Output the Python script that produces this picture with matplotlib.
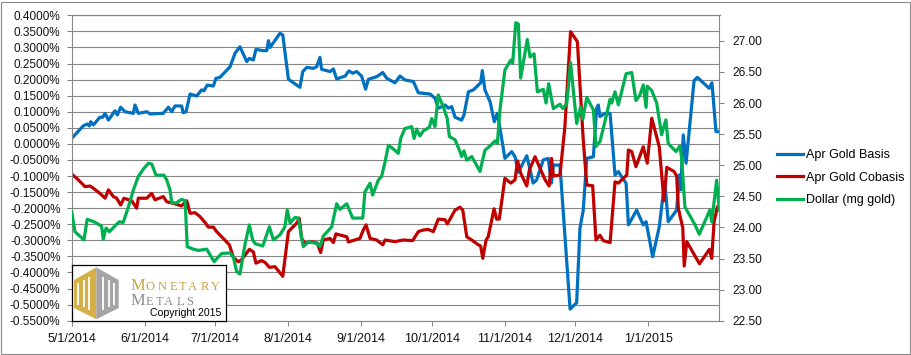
import matplotlib
matplotlib.use("Agg")
import matplotlib.pyplot as plt
from matplotlib.patches import Polygon
from matplotlib.ticker import FuncFormatter, MultipleLocator
import matplotlib.dates as mdates
import pandas as pd

start = pd.Timestamp("2014-05-01")

# days after 5/1/2014
basis_days = [0, 4.9, 6.6, 7.5, 8.1, 9.2, 12.0, 13.2, 14.2, 15.6, 18.4, 19.4, 20.8, 22.7, 26.2, 26.9,
              28.3, 31.9, 33.3, 38.9, 41.1, 42.5, 43.9, 46.7, 47.4, 48.6, 50.3, 53.1, 55.2, 56.2, 57.6,
              60.2, 61.3, 63.0, 67.3, 69.4, 71.5, 74.4, 75.5, 77.2, 78.3, 81.4, 82.9, 83.6, 84.3, 88.5,
              89.7, 92.1, 97.0, 98.2, 99.9, 102.7, 104.1, 105.5, 106.2, 109.8, 111.2, 112.6, 116.2,
              117.8, 119.4, 121.1, 123.2, 124.9, 126.1, 129.6, 132.2, 133.9, 137.4, 139.5, 141.6,
              145.2, 147.3, 152.3, 154.4, 155.8, 157.2, 158.7, 160.1, 161.5, 162.9, 165.7, 166.7,
              168.6, 170.7, 172.8, 173.8, 174.5, 175.6, 177.8, 179.6, 180.9, 182.0, 184.1, 187.0,
              188.4, 189.8, 193.4, 196.1, 197.6, 200.4, 202.5, 203.9, 204.7, 207.5, 211.8, 214.6,
              216.0, 217.4, 218.9, 221.7, 223.1, 223.8, 224.5, 226.6, 228.8, 230.9, 232.3, 233.7,
              235.6, 236.6, 240.1, 242.9, 244.1, 246.9, 249.7, 251.4, 252.1, 253.5, 257.1, 258.2,
              258.8, 259.9, 261.1, 264.5, 265.9, 270.9, 272.1, 273.8, 275.2]
basis_pct = [0.017, 0.056, 0.062, 0.056, 0.069, 0.059, 0.083, 0.083, 0.095, 0.074, 0.103, 0.090,
             0.114, 0.100, 0.095, 0.121, 0.095, 0.100, 0.093, 0.095, 0.114, 0.100, 0.118, 0.118,
             0.097, 0.100, 0.155, 0.149, 0.168, 0.165, 0.183, 0.180, 0.204, 0.207, 0.240, 0.282,
             0.302, 0.256, 0.266, 0.261, 0.294, 0.290, 0.290, 0.321, 0.300, 0.344, 0.339, 0.201,
             0.176, 0.225, 0.238, 0.235, 0.240, 0.269, 0.232, 0.225, 0.233, 0.202, 0.211, 0.227,
             0.220, 0.225, 0.211, 0.170, 0.201, 0.209, 0.222, 0.204, 0.190, 0.211, 0.199, 0.194,
             0.159, 0.155, 0.142, 0.111, 0.116, 0.121, 0.111, 0.116, 0.083, 0.074, 0.090, 0.162,
             0.168, 0.183, 0.190, 0.228, 0.168, 0.131, 0.069, 0.095, 0.049, -0.045, -0.024, -0.040,
             -0.088, -0.037, -0.122, -0.112, -0.050, -0.045, -0.122, -0.066, -0.066, -0.514, -0.494,
             -0.262, -0.206, -0.045, -0.040, 0.111, 0.121, 0.085, 0.095, 0.095, -0.097, -0.086,
             -0.102, -0.122, -0.252, -0.206, -0.252, -0.242, -0.351, -0.258, -0.154, -0.122, -0.242,
             -0.206, -0.097, -0.143, 0.028, -0.060, 0.197, 0.207, 0.173, 0.190, 0.038, 0.038]

cobasis_days = [0, 2.1, 5.7, 7.8, 9.2, 12.0, 14.2, 15.6, 17.7, 19.1, 20.8, 22.2, 25.5, 27.6, 28.3,
                31.9, 34.0, 35.4, 38.9, 40.4, 43.2, 46.7, 48.9, 50.3, 52.4, 54.5, 56.7, 58.1, 60.2,
                61.6, 64.4, 67.0, 68.7, 70.8, 72.2, 75.5, 77.2, 78.3, 80.7, 82.2, 84.0, 86.4, 89.7,
                92.1, 93.5, 95.6, 96.7, 97.7, 99.1, 102.0, 104.4, 105.8, 106.9, 109.8, 111.2, 112.3,
                116.9, 117.6, 122.5, 123.9, 125.1, 126.8, 129.6, 132.2, 133.2, 137.4, 140.9, 144.9,
                147.3, 149.4, 151.5, 153.7, 155.8, 158.7, 159.6, 160.8, 162.9, 165.0, 166.2, 167.9,
                170.0, 172.4, 173.8, 174.7, 176.1, 177.0, 179.5, 180.6, 181.7, 184.1, 186.6, 188.4,
                189.5, 190.8, 193.4, 194.5, 196.9, 201.2, 202.9, 203.9, 204.7, 207.5, 209.6, 212.0,
                214.9, 217.4, 218.9, 221.4, 222.8, 224.5, 225.9, 228.8, 230.9, 232.3, 233.7, 235.9,
                236.6, 238.0, 239.8, 242.9, 244.6, 246.5, 249.7, 251.7, 252.9, 256.0, 257.1, 257.8,
                259.7, 260.3, 261.4, 266.8, 271.0, 272.0, 273.0, 274.4]
cobasis_pct = [-0.094, -0.107, -0.133, -0.131, -0.138, -0.154, -0.169, -0.143, -0.164, -0.169,
               -0.190, -0.169, -0.177, -0.200, -0.169, -0.169, -0.154, -0.174, -0.164, -0.180,
               -0.185, -0.193, -0.177, -0.216, -0.214, -0.226, -0.245, -0.259, -0.259, -0.273,
               -0.294, -0.314, -0.353, -0.367, -0.360, -0.328, -0.336, -0.371, -0.363, -0.369,
               -0.384, -0.382, -0.412, -0.273, -0.262, -0.247, -0.231, -0.294, -0.309, -0.304,
               -0.309, -0.338, -0.299, -0.294, -0.307, -0.280, -0.289, -0.305, -0.294, -0.268,
               -0.252, -0.294, -0.299, -0.314, -0.299, -0.304, -0.299, -0.301, -0.273, -0.268,
               -0.266, -0.273, -0.234, -0.236, -0.249, -0.234, -0.206, -0.197, -0.206, -0.289,
               -0.299, -0.312, -0.318, -0.356, -0.299, -0.289, -0.202, -0.234, -0.234, -0.107,
               -0.122, -0.112, -0.053, -0.091, -0.131, -0.081, -0.040, -0.112, -0.131, -0.045,
               -0.100, -0.097, 0.054, 0.349, 0.318, 0.012, -0.128, -0.130, -0.299, -0.284, -0.301,
               -0.307, -0.118, -0.122, -0.112, -0.097, -0.019, -0.024, -0.071, -0.009, -0.060,
               0.080, -0.009, -0.177, -0.073, -0.086, -0.100, -0.200, -0.262, -0.380, -0.304,
               -0.373, -0.328, -0.356, -0.241, -0.197]

dollar_days = [0, 1.4, 5.2, 6.6, 9.5, 12.7, 13.4, 14.6, 16.0, 18.8, 20.2, 21.9, 24.1, 26.2, 28.3,
               30.7, 32.6, 34.0, 35.8, 39.2, 40.4, 41.8, 42.5, 44.3, 46.7, 48.2, 49.1, 51.7, 53.8,
               57.4, 60.5, 63.7, 67.3, 68.7, 70.1, 71.5, 73.7, 75.5, 76.9, 77.9, 81.2, 84.0, 85.7,
               88.5, 90.6, 91.6, 92.8, 94.9, 96.3, 98.4, 100.6, 104.4, 105.5, 106.9, 110.5, 112.6,
               114.0, 116.9, 119.4, 123.7, 124.6, 126.8, 127.9, 130.3, 131.7, 133.2, 134.6, 136.7,
               138.8, 139.8, 141.6, 144.5, 145.5, 146.6, 148.0, 149.4, 152.0, 153.0, 154.4, 155.8,
               157.9, 159.6, 160.5, 162.9, 165.0, 165.7, 166.7, 167.9, 170.0, 173.5, 175.6, 177.8,
               179.9, 180.9, 182.0, 184.1, 186.6, 187.4, 188.7, 189.8, 190.8, 193.6, 194.8, 196.5,
               197.9, 200.4, 201.6, 202.7, 204.7, 207.5, 208.7, 210.4, 212.0, 214.6, 216.3, 217.2,
               218.9, 221.7, 222.8, 224.5, 226.6, 228.8, 229.5, 230.9, 232.3, 235.6, 238.0, 239.8,
               241.5, 242.9, 244.1, 244.6, 246.5, 248.6, 250.7, 252.5, 253.5, 256.8, 258.5, 259.2,
               260.6, 264.9, 266.7, 271.2, 272.0, 274.1, 275.2]
dollar_mg = [24.25, 23.93, 23.80, 24.13, 24.09, 24.02, 23.81, 23.99, 23.93, 24.04, 24.09, 24.08,
             24.33, 24.60, 24.82, 24.95, 25.03, 25.02, 24.84, 24.84, 24.76, 24.60, 24.40, 24.39,
             24.45, 24.43, 23.69, 23.65, 23.63, 23.65, 23.45, 23.58, 23.59, 23.52, 23.29, 23.25,
             23.74, 24.04, 23.80, 23.74, 23.70, 24.01, 23.80, 23.88, 24.01, 24.28, 24.07, 24.16,
             24.15, 23.69, 23.77, 23.74, 23.69, 23.86, 24.01, 24.38, 24.29, 24.38, 24.15, 24.15,
             24.57, 24.71, 24.52, 24.76, 24.82, 25.06, 25.32, 25.26, 25.19, 25.43, 25.59, 25.62,
             25.43, 25.58, 25.47, 25.55, 25.61, 25.75, 25.62, 26.13, 25.94, 25.75, 25.46, 25.41,
             25.22, 25.14, 25.23, 25.08, 25.14, 24.90, 25.24, 25.31, 25.39, 25.35, 25.89, 26.53,
             26.69, 26.64, 27.29, 27.27, 26.40, 27.02, 26.74, 26.79, 26.18, 26.22, 26.00, 26.31,
             25.91, 25.98, 25.91, 25.99, 26.65, 25.67, 25.94, 25.74, 26.09, 25.89, 25.30, 25.38,
             25.70, 26.06, 26.00, 26.18, 25.97, 26.47, 26.49, 26.04, 26.13, 26.29, 25.93, 26.27,
             26.20, 26.00, 25.49, 25.73, 25.35, 25.22, 25.31, 25.11, 24.33, 24.04, 23.89, 24.28,
             24.09, 24.76, 24.28]

labels = ["Apr Gold Basis", "Apr Gold Cobasis", "Dollar (mg gold)"]
colors = ["#0070C0", "#C00000", "#00B050"]


def to_dates(days):
    return start + pd.to_timedelta(days, unit="D")


W, H = 911, 355
fig = plt.figure(figsize=(W / 100, H / 100), dpi=100)
fig.patches.append(plt.Rectangle((0.5 / W, 1.5 / H), 909 / W, 352 / H, transform=fig.transFigure,
                                 fill=False, edgecolor="#898989", lw=0.8))

ax = fig.add_axes([71.7 / W, 34.3 / H, 647.8 / W, 305.4 / H])
ax2 = ax.twinx()

grid_c = "#868686"
tick_font = "Liberation Sans"

l1, = ax.plot(to_dates(basis_days), basis_pct, color=colors[0], lw=2.3, solid_joinstyle="round")
l2, = ax.plot(to_dates(cobasis_days), cobasis_pct, color=colors[1], lw=2.3, solid_joinstyle="round")
l3, = ax2.plot(to_dates(dollar_days), dollar_mg, color=colors[2], lw=2.3, solid_joinstyle="round")

ax.set_xlim(start, start + pd.Timedelta(days=275.3))
ax.set_ylim(-0.55, 0.40)
ax.yaxis.set_major_locator(MultipleLocator(0.05))
ax.yaxis.set_major_formatter(FuncFormatter(lambda v, p: f"{v:.4f}%".replace("-0.0000", "0.0000")))
ax.grid(axis="y", color=grid_c, lw=0.8)
ax.set_axisbelow(True)

ax.xaxis.set_major_locator(mdates.MonthLocator())
ax.xaxis.set_major_formatter(FuncFormatter(
    lambda v, p: "{d.month}/{d.day}/{d.year}".format(d=mdates.num2date(v))))

ax2.set_ylim(22.5, 27.41)
ax2.set_yticks([22.5 + 0.5 * i for i in range(10)])
ax2.yaxis.set_major_formatter(FuncFormatter(lambda v, p: f"{v:.2f}"))

for a in (ax, ax2):
    for s in a.spines.values():
        s.set_color(grid_c)
        s.set_linewidth(0.8)
ax.spines["right"].set_visible(False)
ax2.spines["left"].set_visible(False)
ax2.spines["bottom"].set_visible(False)

ax.tick_params(axis="y", direction="out", length=3.5, width=0.8, color=grid_c, pad=4.5,
               labelsize=8.5, labelcolor="#111111")
ax.tick_params(axis="x", direction="out", length=3.8, width=0.8, color=grid_c, pad=5,
               labelsize=9, labelcolor="#111111")
ax2.tick_params(axis="y", direction="out", length=3.5, width=0.8, color=grid_c, pad=6,
                labelsize=8.6, labelcolor="#111111")
for t in ax.get_xticklabels() + ax.get_yticklabels() + ax2.get_yticklabels():
    t.set_fontfamily(tick_font)

fig.legend([l1, l2, l3], labels, loc="center left", bbox_to_anchor=(776.5 / W, 0.5),
           bbox_transform=fig.transFigure, frameon=False, borderpad=0, borderaxespad=0,
           handlelength=2.1, handletextpad=0.3, labelspacing=0.85,
           prop={"family": tick_font, "size": 9})

# Monetary Metals logo box
lx0, lx1, ly0, ly1 = 71.7, 225.5, 264.7, 320.7
lax = fig.add_axes([lx0 / W, (H - ly1) / H, (lx1 - lx0) / W, (ly1 - ly0) / H])
lax.set_xlim(0, lx1 - lx0)
lax.set_ylim(ly1 - ly0, 0)
lax.set_xticks([])
lax.set_yticks([])
lax.set_facecolor("white")
for s in lax.spines.values():
    s.set_color("black")
    s.set_linewidth(0.9)

gold, grey = "#D5AF48", "#A5A5A5"
cx, top, bot, xl, xr, yu, yd = 24.6, 2.6, 54.6, 2.3, 47.0, 15.3, 43.3
lax.add_patch(Polygon([(cx, top), (xl, yu), (xl, yd), (cx, bot)], closed=True, fc=gold, ec="none"))
lax.add_patch(Polygon([(cx, top), (xr, yu), (xr, yd), (cx, bot)], closed=True, fc=grey, ec="none"))
for sx in (6.5, 12.0, 17.5, 31.7, 37.2, 42.7):
    frac = abs(sx - cx) / (cx - xl)
    y_a = top + frac * (yu - top) + 5.5
    y_b = bot - frac * (bot - yd) - 5.5
    lax.plot([sx, sx], [y_a, y_b], color="white", lw=1.3, solid_capstyle="butt")

serif = "Liberation Serif"
word_rows = [("MONETARY", 24.8, [59, 73.6, 85.6, 98, 107.3, 116.3, 128.6, 139.6], "#C9A23F"),
             ("METALS", 40.5, [59, 73.6, 83.6, 92.6, 105.3, 114.3], "#8C8C8C")]
for word, y, xs, col in word_rows:
    for i, ch in enumerate(word):
        lax.text(xs[i], y, ch, color=col, family=serif,
                 fontsize=11.8 if i == 0 else 9.0, ha="left", va="baseline")
lax.text(78, 51.3, "Copyright 2015", family=tick_font, fontsize=7.6, color="black",
         ha="left", va="baseline")

fig.savefig("out.png", dpi=100)
